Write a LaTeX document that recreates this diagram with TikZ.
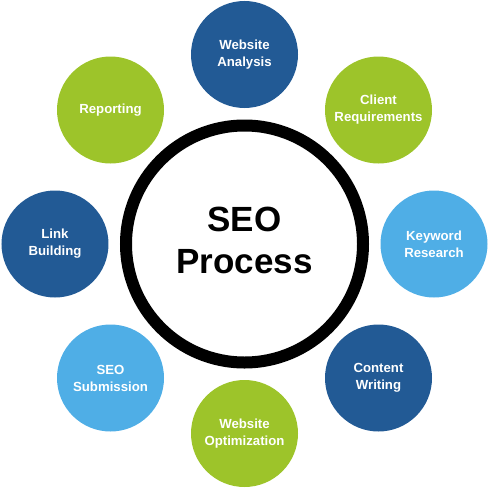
\documentclass[tikz,border=0pt]{standalone}
\usepackage{fontspec}
\setmainfont{Liberation Sans}
\usepackage{xcolor}
\usetikzlibrary{positioning}
\definecolor{deepblue}{HTML}{225A95}
\definecolor{leafgreen}{HTML}{9DC42A}
\definecolor{skyblue}{HTML}{4FAEE6}

\begin{document}
\begin{tikzpicture}[x=1pt,y=1pt,
  hub/.style={circle,draw=black,line width=12pt,fill=white,minimum size=237pt,
              inner sep=0pt,font=\fontsize{35}{42}\selectfont\bfseries,align=center},
  sat/.style={circle,minimum size=107pt,inner sep=0pt,text=white,
              font=\fontsize{13.2}{17}\selectfont\bfseries,align=center}
]
\useasboundingbox (-244.5,-244) rectangle (244.5,244);
\node[hub] (seo) at (0,0) {};
\node[font=\fontsize{35}{42}\selectfont\bfseries,align=center] (seotxt) at (0,4) {SEO\\Process};
\foreach \ang/\col/\txt/\nm in {
    90/deepblue/{Website\\Analysis}/analysis,
    45/leafgreen/{Client\\Requirements}/client,
    0/skyblue/{Keyword\\Research}/keyword,
    -45/deepblue/{Content\\Writing}/content,
    -90/leafgreen/{Website\\Optimization}/optim,
    -135/skyblue/{SEO\\Submission}/submit,
    180/deepblue/{Link\\Building}/link,
    135/leafgreen/{Reporting}/report}
  \node[sat,fill=\col] (\nm) at (\ang:189.5) {\txt};
\end{tikzpicture}
\end{document}
